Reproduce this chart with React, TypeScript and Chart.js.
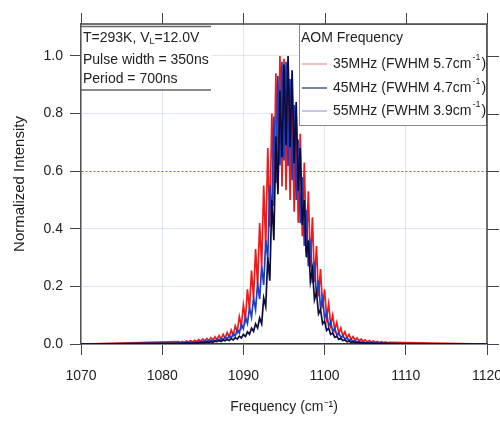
import React, { useEffect, useRef } from "react";
import { Chart, registerables } from "chart.js";

Chart.register(...registerables);

// Frequency grid (cm^-1)
const freq = [
  1070,
  1082, 1082.25, 1082.5, 1082.75, 1083, 1083.25, 1083.5, 1083.75,
  1084, 1084.25, 1084.5, 1084.75, 1085, 1085.25, 1085.5, 1085.75,
  1086, 1086.25, 1086.5, 1086.75, 1087, 1087.25, 1087.5, 1087.75,
  1088, 1088.25, 1088.5, 1088.75, 1089, 1089.25, 1089.5, 1089.75,
  1090, 1090.25, 1090.5, 1090.75, 1091, 1091.25, 1091.5, 1091.75,
  1092, 1092.25, 1092.5, 1092.75, 1093, 1093.25, 1093.5, 1093.75,
  1094, 1094.25, 1094.5, 1094.75, 1095, 1095.25, 1095.5, 1095.75,
  1096, 1096.25, 1096.5, 1096.75, 1097, 1097.25, 1097.5, 1097.75,
  1098, 1098.25, 1098.5, 1098.75, 1099, 1099.25, 1099.5, 1099.75,
  1100, 1100.25, 1100.5, 1100.75, 1101, 1101.25, 1101.5, 1101.75,
  1102, 1102.25, 1102.5, 1102.75, 1103, 1103.25, 1103.5, 1103.75,
  1104, 1104.25, 1104.5, 1104.75, 1105, 1105.25, 1105.5, 1105.75,
  1106, 1106.25, 1106.5, 1106.75, 1107, 1107.25, 1107.5, 1107.75,
  1108,
  1120,
];

// 35 MHz (FWHM 5.7 cm-1)
const aom35 = [
  0,
  0.008, 0.005, 0.009, 0.005, 0.010, 0.006, 0.012, 0.007,
  0.013, 0.008, 0.015, 0.009, 0.017, 0.010, 0.019, 0.011,
  0.022, 0.013, 0.025, 0.015, 0.029, 0.017, 0.034, 0.020,
  0.040, 0.024, 0.048, 0.031, 0.063, 0.043, 0.095, 0.063,
  0.135, 0.089, 0.19, 0.122, 0.255, 0.161, 0.33, 0.206,
  0.42, 0.267, 0.55, 0.338, 0.68, 0.407, 0.80, 0.479,
  0.94, 0.534, 1.0, 0.547, 0.99, 0.534, 0.95, 0.50,
  0.87, 0.459, 0.80, 0.421, 0.73, 0.374, 0.63, 0.319,
  0.53, 0.267, 0.44, 0.215, 0.34, 0.165, 0.26, 0.124,
  0.19, 0.091, 0.14, 0.066, 0.10, 0.048, 0.075, 0.036,
  0.055, 0.027, 0.042, 0.021, 0.033, 0.016, 0.026, 0.013,
  0.021, 0.010, 0.017, 0.009, 0.014, 0.007, 0.012, 0.006,
  0.010, 0.005, 0.009, 0.005, 0.008, 0.004, 0.007, 0.004,
  0.006,
  0,
];

// 45 MHz (FWHM 4.7 cm-1)
const aom45 = [
  0,
  0.003, 0.004, 0.003, 0.005, 0.004, 0.006, 0.004, 0.007,
  0.005, 0.008, 0.006, 0.009, 0.006, 0.011, 0.008, 0.013,
  0.009, 0.015, 0.010, 0.017, 0.012, 0.020, 0.014, 0.024,
  0.017, 0.029, 0.021, 0.036, 0.028, 0.050, 0.038, 0.068,
  0.053, 0.094, 0.071, 0.125, 0.093, 0.16, 0.120, 0.21,
  0.156, 0.27, 0.205, 0.36, 0.296, 0.55, 0.436, 0.79,
  0.559, 0.93, 0.621, 0.98, 0.637, 0.98, 0.618, 0.92,
  0.569, 0.83, 0.50, 0.71, 0.419, 0.58, 0.340, 0.465,
  0.270, 0.365, 0.211, 0.285, 0.164, 0.22, 0.124, 0.16,
  0.088, 0.11, 0.061, 0.077, 0.043, 0.055, 0.031, 0.039,
  0.022, 0.029, 0.017, 0.022, 0.012, 0.016, 0.009, 0.012,
  0.007, 0.009, 0.005, 0.007, 0.004, 0.005, 0.003, 0.004,
  0.002, 0.003, 0.002, 0.003, 0.002, 0.002, 0.001, 0.002,
  0.001,
  0,
];

// 55 MHz (FWHM 3.9 cm-1)
const aom55 = [
  0,
  0.002, 0.001, 0.002, 0.002, 0.003, 0.002, 0.003, 0.002,
  0.004, 0.003, 0.005, 0.004, 0.006, 0.005, 0.007, 0.005,
  0.008, 0.006, 0.010, 0.008, 0.012, 0.009, 0.014, 0.011,
  0.016, 0.012, 0.019, 0.014, 0.022, 0.017, 0.027, 0.021,
  0.033, 0.026, 0.042, 0.034, 0.055, 0.044, 0.07, 0.056,
  0.09, 0.07, 0.16, 0.13, 0.30, 0.22, 0.50, 0.36,
  0.72, 0.52, 0.88, 0.648, 0.97, 0.69, 1.0, 0.683,
  0.95, 0.627, 0.84, 0.532, 0.68, 0.413, 0.50, 0.301,
  0.36, 0.217, 0.26, 0.154, 0.18, 0.105, 0.12, 0.07,
  0.08, 0.047, 0.055, 0.033, 0.038, 0.023, 0.027, 0.016,
  0.019, 0.012, 0.014, 0.008, 0.010, 0.006, 0.008, 0.005,
  0.006, 0.004, 0.005, 0.003, 0.004, 0.002, 0.003, 0.002,
  0.003, 0.002, 0.002, 0.001, 0.002, 0.001, 0.002, 0.001,
  0.001,
  0,
];

const seriesLabels = ["35MHz (FWHM 5.7cm", "45MHz (FWHM 4.7cm", "55MHz (FWHM 3.9cm"];
const seriesColors = ["#f01a1a", "#1e3ec2", "#0c0c3c"];
const legendLineColors = ["#f4a9a9", "#4a5590", "#b4b4dc"];
const legendTitle = "AOM Frequency";
const noteLines = ["Pulse width = 350ns", "Period = 700ns"];
const xTitle = "Frequency (cm\u207B\u00B9)";
const yTitle = "Normalized Intensity";

const FONT = "'Liberation Sans', Arial, sans-serif";
const TEXT = "#222";

const overlayPlugin = {
  id: "overlay",
  afterDraw(chart: any) {
    const { ctx, chartArea: a, scales } = chart;
    ctx.save();

    // Annotation box (top-left)
    const bx1 = a.left, bx2 = a.left + 130, by1 = a.top + 2.5, by2 = 90;
    ctx.fillStyle = "#fff";
    ctx.fillRect(bx1 + 1, by1, bx2 - bx1, by2 - by1);
    ctx.strokeStyle = "#666";
    ctx.lineWidth = 1.5;
    ctx.beginPath();
    ctx.moveTo(bx1, by1); ctx.lineTo(bx2, by1);
    ctx.moveTo(bx1, by2); ctx.lineTo(bx2, by2);
    ctx.stroke();

    ctx.fillStyle = TEXT;
    ctx.textBaseline = "middle";
    ctx.textAlign = "left";
    ctx.font = `14px ${FONT}`;
    let x = bx1 + 2;
    const y1 = 38;
    const p1 = "T=293K, V";
    ctx.fillText(p1, x, y1);
    x += ctx.measureText(p1).width;
    ctx.font = `9px ${FONT}`;
    ctx.fillText("L", x, y1 + 4);
    x += ctx.measureText("L").width;
    ctx.font = `14px ${FONT}`;
    ctx.fillText("=12.0V", x, y1);
    ctx.fillText(noteLines[0], bx1 + 2, 60);
    ctx.fillText(noteLines[1], bx1 + 2, 79);

    // Legend box (top-right)
    const lx1 = 299, lx2 = a.right, ly1 = a.top, ly2 = 125;
    ctx.fillStyle = "#fff";
    ctx.fillRect(lx1, ly1, lx2 - lx1, ly2 - ly1);
    ctx.strokeStyle = "#888";
    ctx.lineWidth = 1;
    ctx.strokeRect(lx1 + 0.5, ly1 + 0.5, lx2 - lx1 - 1, ly2 - ly1);
    ctx.fillStyle = TEXT;
    ctx.font = `14px ${FONT}`;
    ctx.fillText(legendTitle, lx1 + 2, 38);
    const rows = [64, 88, 111];
    seriesLabels.forEach((lab, i) => {
      const ry = rows[i];
      ctx.strokeStyle = legendLineColors[i];
      ctx.lineWidth = 1.5;
      ctx.beginPath();
      ctx.moveTo(302, ry); ctx.lineTo(327, ry);
      ctx.stroke();
      ctx.fillStyle = TEXT;
      ctx.font = `14px ${FONT}`;
      let tx = 333;
      ctx.fillText(lab, tx, ry);
      tx += ctx.measureText(lab).width + 1;
      ctx.font = `9px ${FONT}`;
      ctx.fillText("-1", tx, ry - 6);
      tx += ctx.measureText("-1").width + 1;
      ctx.font = `14px ${FONT}`;
      ctx.fillText(")", tx, ry);
    });

    // Frame: top and right, with mirrored outward ticks
    ctx.strokeStyle = "#444";
    ctx.lineWidth = 1.5;
    ctx.beginPath();
    ctx.moveTo(a.left, a.top); ctx.lineTo(a.right, a.top); ctx.lineTo(a.right, a.bottom);
    ctx.stroke();
    ctx.lineWidth = 1;
    ctx.beginPath();
    scales.x.ticks.forEach((t: any) => {
      const px = Math.round(scales.x.getPixelForValue(t.value)) + 0.5;
      ctx.moveTo(px, a.top); ctx.lineTo(px, a.top - 11);
    });
    scales.y.ticks.forEach((t: any) => {
      const py = Math.round(scales.y.getPixelForValue(t.value)) + 0.5;
      ctx.moveTo(a.right, py); ctx.lineTo(a.right + 12, py);
    });
    ctx.stroke();
    ctx.restore();
  },
};

const isSix = (c: any) => c.tick && Math.abs(c.tick.value - 0.6) < 1e-6;

export default function App() {
  const ref = useRef<HTMLCanvasElement | null>(null);

  useEffect(() => {
    if (!ref.current) return;
    const mk = (vals: number[]) => freq.map((f, i) => ({ x: f, y: vals[i] }));
    const chart = new Chart(ref.current, {
      type: "line",
      data: {
        datasets: [
          { label: seriesLabels[0], data: mk(aom35), borderColor: seriesColors[0], borderWidth: 1.7, pointRadius: 0, tension: 0, order: 3 },
          { label: seriesLabels[1], data: mk(aom45), borderColor: seriesColors[1], borderWidth: 1.7, pointRadius: 0, tension: 0, order: 2 },
          { label: seriesLabels[2], data: mk(aom55), borderColor: seriesColors[2], borderWidth: 1.7, pointRadius: 0, tension: 0, order: 1 },
        ],
      },
      options: {
        responsive: false,
        maintainAspectRatio: false,
        animation: false,
        layout: { padding: { top: 24, right: 13, left: 0, bottom: 0 } },
        plugins: { legend: { display: false }, tooltip: { enabled: false } },
        scales: {
          x: {
            type: "linear",
            min: 1070,
            max: 1120,
            afterFit: (s: any) => { s.height = 77; s.paddingLeft = 0; s.paddingRight = 0; },
            ticks: {
              stepSize: 10,
              maxRotation: 0,
              padding: 13,
              color: TEXT,
              font: { family: FONT, size: 14 },
              callback: (v: any) => String(v),
            },
            grid: {
              color: "rgba(200,205,230,0.55)",
              tickColor: "#444",
              tickLength: 11,
              lineWidth: 1,
            },
            border: { color: "#333", width: 1.5 },
            title: {
              display: true,
              text: xTitle,
              color: TEXT,
              font: { family: FONT, size: 14 },
              padding: { top: 0, bottom: 5 },
            },
          },
          y: {
            type: "linear",
            min: 0,
            max: 1.111,
            afterFit: (s: any) => { s.width = 81; s.paddingTop = 0; s.paddingBottom = 0; },
            ticks: {
              stepSize: 0.2,
              includeBounds: false,
              padding: 7,
              color: TEXT,
              font: { family: FONT, size: 14 },
              callback: (v: any) => Number(v).toFixed(1),
            },
            grid: {
              color: (c: any) => (isSix(c) ? "rgba(80,80,225,0.85)" : "rgba(200,205,230,0.55)"),
              tickColor: "#444",
              tickLength: 11,
              lineWidth: 1,
            },
            border: {
              color: "#555",
              width: 1.5,
              dash: (c: any) => (isSix(c) ? [2, 2] : []),
            },
            title: {
              display: true,
              text: yTitle,
              color: TEXT,
              font: { family: FONT, size: 15 },
              padding: { top: 11, bottom: 0 },
            },
          },
        },
      },
      plugins: [overlayPlugin],
    });
    return () => chart.destroy();
  }, []);

  return (
    <div style={{ position: "absolute", left: 0, top: 0, width: 500, height: 421, background: "#fff" }}>
      <canvas ref={ref} width={500} height={421} style={{ display: "block" }} />
    </div>
  );
}
